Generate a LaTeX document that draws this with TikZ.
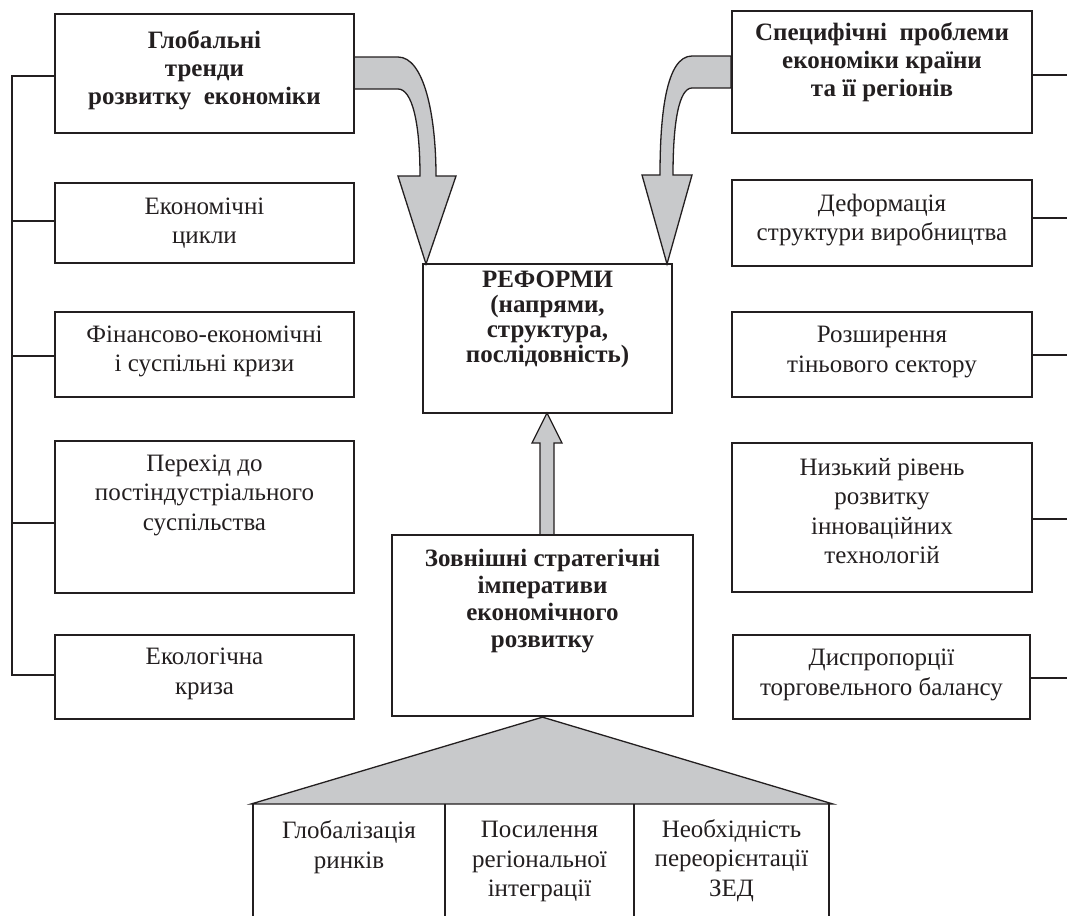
\documentclass[tikz,border=0pt]{standalone}
\usepackage{fontspec}
\setmainfont{Liberation Serif}
\definecolor{ink}{RGB}{35,31,32}
\definecolor{shade}{RGB}{200,201,203}
\begin{document}
\begin{tikzpicture}[x=1pt,y=-1pt,
  box/.style={draw=ink, line width=1.3pt, inner sep=0pt},
  bbox/.style={box, line width=2.3pt},
  txt/.style={text=ink, align=center, inner sep=0pt, font=\fontsize{25}{29.5}\selectfont},
  btxt/.style={text=ink, align=center, inner sep=0pt, font=\fontsize{25}{28}\selectfont\bfseries},
  link/.style={draw=ink, line width=1.3pt},
  blockarrow/.style={fill=shade, draw=ink, line width=1.3pt, line join=miter}
]
\useasboundingbox (0,0) rectangle (1067,916);

% block arrows
\path[blockarrow] (354,57) -- (398,57) .. controls (424,57) and (436,115) .. (436,176)
  -- (456,176) -- (426,264) -- (398,176) -- (420,176)
  .. controls (420,122) and (412,89) .. (398,89) -- (354,89) -- cycle;
\path[blockarrow] (731,56) -- (692,56) .. controls (666,56) and (660,115) .. (660,175)
  -- (642,175) -- (667,264) -- (692,175) -- (673,175)
  .. controls (673,122) and (679,88) .. (692,88) -- (731,88) -- cycle;
\path[blockarrow] (540,535) -- (540,443) -- (532,443) -- (547,413) -- (562,443)
  -- (554,443) -- (554,535) -- cycle;

% left column
\node[bbox, minimum width=299pt, minimum height=119pt] (glob) at (204.5,73.5) {};
\node[btxt] (globT) at (204.5,70) {Глобальні\\тренди\\розвитку\ \ економіки};
\node[box, minimum width=299pt, minimum height=80pt] (ekc) at (204.5,223) {};
\node[txt] (ekcT) at (204.5,223) {Економічні\\цикли};
\node[box, minimum width=299pt, minimum height=85pt] (fin) at (204.5,354.5) {};
\node[txt] (finT) at (204.5,351.5) {Фінансово-економічні\\і суспільні кризи};
\node[box, minimum width=299pt, minimum height=152pt] (per) at (204.5,517) {};
\node[txt] (perT) at (204.5,495) {Перехід до\\постіндустріального\\суспільства};
\node[box, minimum width=299pt, minimum height=84pt] (eko) at (204.5,677) {};
\node[txt] (ekoT) at (204.5,674) {Екологічна\\криза};

% right column
\node[bbox, minimum width=300pt, minimum height=122pt] (spec) at (882,72) {};
\node[btxt] (specT) at (882,62.5) {Специфічні\ \ проблеми\\економіки країни\\та її регіонів};
\node[box, minimum width=300pt, minimum height=86pt] (def) at (882,223) {};
\node[txt] (defT) at (882,220) {Деформація\\структури виробництва};
\node[box, minimum width=300pt, minimum height=85pt] (roz) at (882,354.5) {};
\node[txt] (rozT) at (882,352) {Розширення\\тіньового сектору};
\node[box, minimum width=300pt, minimum height=149pt] (niz) at (882,517.5) {};
\node[txt] (nizT) at (882,511) {Низький рівень\\розвитку\\інноваційних\\технологій};
\node[box, minimum width=297pt, minimum height=84pt] (dys) at (881.5,677) {};
\node[txt] (dysT) at (881.5,675) {Диспропорції\\торговельного балансу};

% centre
\node[bbox, minimum width=249pt, minimum height=149pt] (ref) at (547.5,338.5) {};
\node[btxt, font=\fontsize{25}{25}\selectfont\bfseries] (refT) at (547.5,319) {РЕФОРМИ\\(напрями,\\структура,\\послідовність)};
\node[bbox, minimum width=301pt, minimum height=181pt] (zov) at (542.5,625.5) {};
\node[btxt, font=\fontsize{25}{27}\selectfont\bfseries] (zovT) at (542.5,601) {Зовнішні стратегічні\\імперативи\\економічного\\розвитку};

% left bus
\coordinate (l1) at (12,76);
\coordinate (l2) at (12,221);
\coordinate (l3) at (12,356);
\coordinate (l4) at (12,523);
\coordinate (l5) at (12,675);
\draw[link] (glob.west |- l1) -- (l1) -- (l5) -- (eko.west |- l5);
\draw[link] (l2) -- (ekc.west |- l2);
\draw[link] (l3) -- (fin.west |- l3);
\draw[link] (l4) -- (per.west |- l4);

% right stubs
\coordinate (r1) at (1067,75);
\coordinate (r2) at (1067,218);
\coordinate (r3) at (1067,355);
\coordinate (r4) at (1067,519);
\coordinate (r5) at (1067,678);
\draw[link] (spec.east |- r1) -- (r1);
\draw[link] (def.east |- r2) -- (r2);
\draw[link] (roz.east |- r3) -- (r3);
\draw[link] (niz.east |- r4) -- (r4);
\draw[link] (dys.east |- r5) -- (r5);

% triangle and cells
\coordinate (tl) at (251,804);
\coordinate (tr) at (833,804);
\path[blockarrow] (tl) -- (zov.south) -- (tr) -- cycle;
\coordinate (v1) at (253,804);
\coordinate (v2) at (445,804);
\coordinate (v3) at (634,804);
\coordinate (v4) at (829,804);
\draw[link] (v1) -- ++(0,112);
\draw[link] (v2) -- ++(0,112);
\draw[link] (v3) -- ++(0,112);
\draw[link] (v4) -- ++(0,112);
\node[txt] (c1) at (349,847) {Глобалізація\\ринків};
\node[txt] (c2) at (539.5,861.5) {Посилення\\регіональної\\інтеграції};
\node[txt] (c3) at (731.5,860.5) {Необхідність\\переорієнтації\\ЗЕД};
\end{tikzpicture}
\end{document}
